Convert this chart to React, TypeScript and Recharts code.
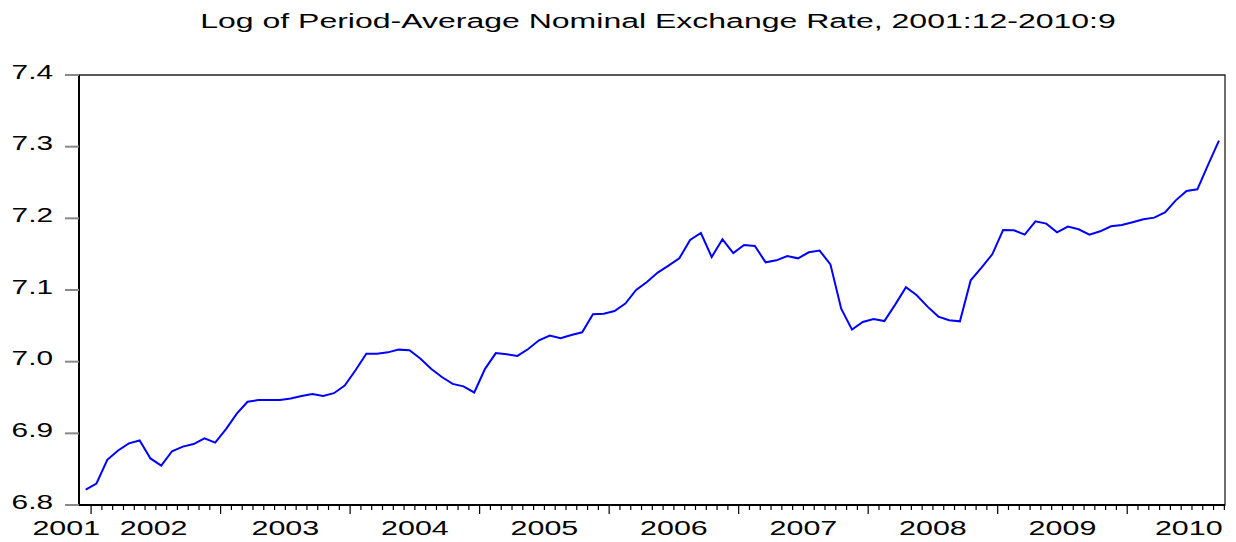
import React from 'react';
import {
  LineChart,
  Line,
  XAxis,
  YAxis,
  ReferenceArea,
} from 'recharts';

// log of period-average nominal exchange rate, monthly 2001:12 .. 2010:9
const VALUES = [
  6.8215, // 2001:12
  6.830, 6.863, 6.876, 6.886, 6.890, 6.865, 6.855, 6.875, 6.8815, 6.885, 6.893, 6.887, // 2002
  6.906, 6.9275, 6.944, 6.9465, 6.9465, 6.9465, 6.9485, 6.952, 6.955, 6.952, 6.956, 6.9666, // 2003
  6.988, 7.011, 7.011, 7.013, 7.0168, 7.016, 7.0043, 6.990, 6.9786, 6.969, 6.9656, 6.957, // 2004
  6.990, 7.012, 7.0103, 7.008, 7.0177, 7.0298, 7.0364, 7.0326, 7.0372, 7.041, 7.0661, 7.067, // 2005
  7.0707, 7.081, 7.100, 7.1111, 7.1243, 7.134, 7.1442, 7.1698, 7.1795, 7.146, 7.1707, 7.1516, // 2006
  7.1628, 7.1614, 7.1386, 7.1414, 7.1474, 7.1442, 7.1526, 7.155, 7.1358, 7.074, 7.0447, 7.0553, // 2007
  7.0595, 7.0567, 7.0796, 7.1038, 7.0926, 7.0768, 7.0629, 7.0577, 7.0563, 7.1135, 7.1312, 7.1498, // 2008
  7.1837, 7.1833, 7.1773, 7.1958, 7.1926, 7.1805, 7.1884, 7.1847, 7.1773, 7.1819, 7.1889, 7.1907, // 2009
  7.1945, 7.1986, 7.201, 7.2084, 7.2251, 7.2381, 7.2405, 7.2749, 7.3085, // 2010:1-9
];

const YEAR_LABELS = ['2001', '2002', '2003', '2004', '2005', '2006', '2007', '2008', '2009', '2010'];
// where each year label sits, in months from 2001:12
const YEAR_LABEL_POS = [-1.8, 6.3, 18.5, 30.5, 42.5, 54.5, 66.5, 78.5, 90.5, 102.2];
const Y_TICKS = [6.8, 6.9, 7.0, 7.1, 7.2, 7.3, 7.4];

const X_DOMAIN: [number, number] = [-0.62, 105.56];
const FONT = '"Liberation Sans", Arial, sans-serif';

const data = VALUES.map((value, idx) => ({ idx, value }));
// month boundaries for the small ticks
const monthTicks = VALUES.map((_, i) => i + 0.5);

function MonthTick({ x, y, payload }: any) {
  const major = (payload.value - 0.5) % 12 === 0;
  return <line x1={x} x2={x} y1={y} y2={y + (major ? 9 : 5)} stroke="#000" strokeWidth={1.2} />;
}

function YearTick({ x, y, payload, index }: any) {
  const label = YEAR_LABELS[index] ?? payload.value;
  return (
    <text
      transform={`translate(${x},${y + 21}) scale(1.45,1)`}
      textAnchor="middle"
      fontSize={21}
      fontFamily={FONT}
      fill="#000"
    >
      {label}
    </text>
  );
}

function ValueTick({ x, y, payload }: any) {
  return (
    <text
      transform={`translate(${x},${y + 3.5}) scale(1.42,1)`}
      textAnchor="end"
      fontSize={21}
      fontFamily={FONT}
      fill="#000"
    >
      {payload.value.toFixed(1)}
    </text>
  );
}

export default function App() {
  return (
    <div style={{ position: 'absolute', left: 0, top: 0, width: 1236, height: 542, background: '#fff' }}>
      <div
        style={{
          position: 'absolute',
          left: 40,
          top: 11,
          width: 1236,
          textAlign: 'center',
          fontFamily: FONT,
          fontSize: 20,
          lineHeight: '20px',
          transform: 'scaleX(1.6)',
          transformOrigin: 'center',
          whiteSpace: 'nowrap',
        }}
      >
        Log of Period-Average Nominal Exchange Rate, 2001:12-2010:9
      </div>
      <LineChart width={1236} height={542} data={data} margin={{ top: 75, right: 11, left: 0, bottom: 0 }}>
        <ReferenceArea
          x1={X_DOMAIN[0]}
          x2={X_DOMAIN[1]}
          y1={6.8}
          y2={7.4}
          fill="none"
          fillOpacity={0}
          stroke="#222"
          strokeWidth={1.3}
        />
        <XAxis
          dataKey="idx"
          type="number"
          domain={X_DOMAIN}
          ticks={monthTicks}
          interval={0}
          height={9}
          tickSize={0}
          tickMargin={0}
          tickLine={false}
          tick={<MonthTick />}
          axisLine={{ stroke: '#000', strokeWidth: 2 }}
        />
        <XAxis
          xAxisId="yr"
          dataKey="idx"
          type="number"
          domain={X_DOMAIN}
          allowDataOverflow
          ticks={YEAR_LABEL_POS}
          interval={0}
          height={28}
          tickSize={0}
          tickMargin={0}
          tickLine={false}
          axisLine={false}
          tick={<YearTick />}
        />
        <YAxis
          type="number"
          domain={[6.8, 7.4]}
          ticks={Y_TICKS}
          interval={0}
          width={79}
          tickSize={14}
          tickMargin={12}
          tickLine={{ stroke: '#888', strokeWidth: 2 }}
          axisLine={{ stroke: '#000', strokeWidth: 2 }}
          tick={<ValueTick />}
        />
        <Line
          dataKey="value"
          type="linear"
          stroke="#0000ff"
          strokeWidth={2}
          dot={false}
          isAnimationActive={false}
        />
      </LineChart>
    </div>
  );
}
